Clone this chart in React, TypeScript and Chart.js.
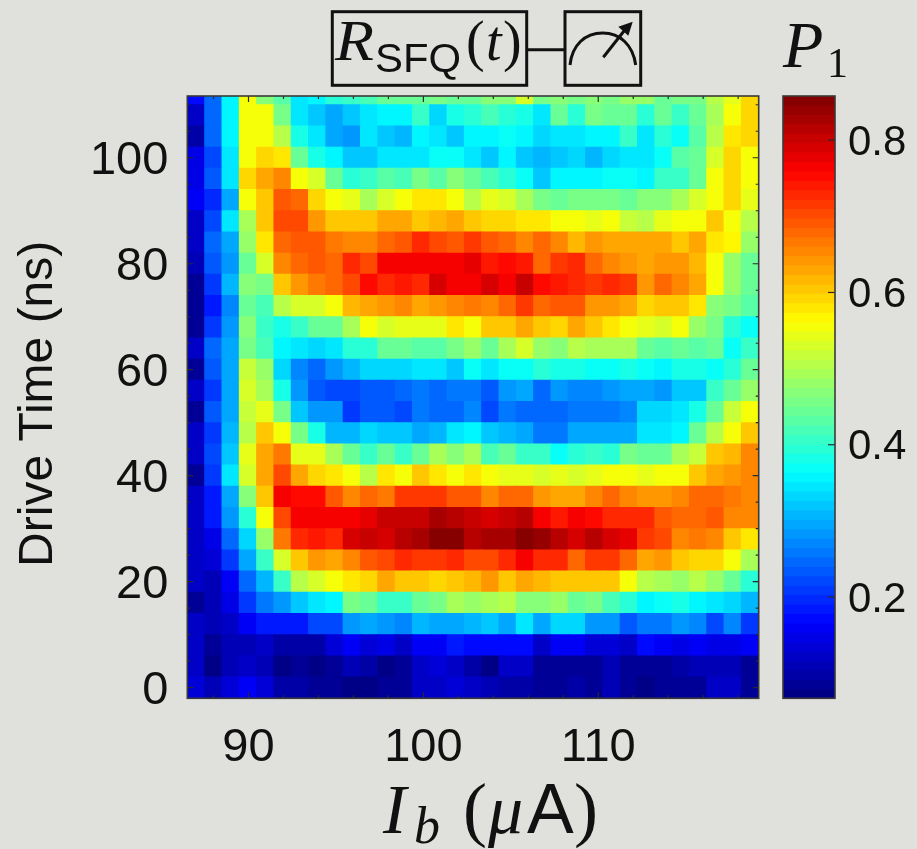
import React, { useEffect, useRef } from "react";
import { Chart, registerables } from "chart.js";

Chart.register(...registerables);

const biasCurrents = [87.0, 87.99, 88.98, 89.97, 90.96, 91.95, 92.94, 93.93, 94.92, 95.91, 96.9, 97.89, 98.88, 99.87, 100.86, 101.85, 102.84, 103.83, 104.82, 105.81, 106.8, 107.79, 108.78, 109.77, 110.76, 111.75, 112.74, 113.73, 114.72, 115.71, 116.7, 117.69, 118.68];
const driveTimes = [0, 4, 8, 12, 16, 20, 24, 28, 32, 36, 40, 44, 48, 52, 56, 60, 64, 68, 72, 76, 80, 84, 88, 92, 96, 100, 104, 108, 112];
const rowHalfNs = 2;

const row0 = [.14, .11, .14, .165, .13, .095, .095, .085, .08, .07, .07, .08, .085, .12, .12, .13, .118, .115, .095, .095, .09, .08, .1, .08, .105, .08, .07, .09, .085, .085, .12, .12, .085];
const row4 = [.12, .07, .105, .12, .105, .067, .09, .075, .08, .105, .095, .068, .08, .12, .13, .125, .095, .075, .12, .12, .085, .085, .09, .09, .115, .085, .085, .085, .1, .115, .11, .11, .09];
const row8 = [.12, .08, .115, .115, .12, .095, .095, .095, .13, .165, .14, .15, .12, .165, .165, .18, .178, .175, .175, .175, .12, .165, .165, .14, .14, .125, .17, .165, .15, .165, .15, .15, .165];
const row12 = [.12, .11, .12, .165, .18, .18, .18, .22, .22, .285, .3, .285, .265, .31, .3, .29, .312, .315, .29, .34, .29, .33, .33, .285, .285, .24, .255, .255, .285, .265, .22, .27, .21];
const row16 = [.09, .11, .15, .205, .255, .285, .315, .34, .36, .455, .445, .405, .405, .44, .455, .49, .475, .49, .5, .465, .465, .48, .44, .455, .415, .4, .36, .37, .385, .36, .35, .335, .31];
const row20 = [.12, .11, .165, .245, .31, .41, .505, .53, .56, .585, .59, .625, .6, .61, .595, .61, .615, .64, .6, .635, .62, .61, .61, .6, .61, .55, .51, .49, .485, .505, .485, .44, .395];
const row24 = [.12, .135, .205, .29, .41, .525, .6, .645, .625, .65, .685, .7, .73, .72, .72, .73, .708, .7, .73, .76, .73, .725, .675, .72, .71, .68, .63, .645, .61, .59, .59, .55, .49];
const row28 = [.12, .145, .25, .33, .485, .67, .73, .745, .73, .79, .8, .785, .82, .83, .855, .855, .82, .83, .83, .85, .835, .815, .785, .81, .79, .78, .72, .705, .655, .67, .65, .61, .585];
const row32 = [.12, .18, .28, .4, .55, .7, .76, .77, .76, .76, .78, .8, .8, .8, .83, .82, .808, .79, .8, .815, .76, .735, .76, .75, .73, .73, .73, .685, .675, .675, .69, .655, .65];
const row36 = [.12, .185, .29, .465, .605, .77, .75, .75, .685, .66, .675, .665, .72, .72, .72, .69, .69, .66, .68, .68, .64, .63, .63, .66, .68, .65, .64, .64, .655, .68, .68, .665, .65];
const row40 = [.09, .21, .34, .53, .635, .7, .625, .595, .58, .56, .51, .585, .56, .61, .585, .56, .58, .56, .54, .54, .525, .54, .525, .54, .55, .55, .54, .55, .56, .61, .63, .645, .66];
const row44 = [.12, .22, .325, .54, .63, .67, .54, .54, .49, .445, .41, .445, .41, .445, .49, .47, .49, .415, .44, .41, .41, .37, .395, .405, .39, .455, .44, .44, .49, .52, .61, .615, .65];
const row48 = [.12, .205, .31, .5, .6, .56, .46, .385, .31, .31, .33, .32, .32, .3, .31, .34, .36, .325, .31, .3, .26, .26, .29, .29, .3, .3, .34, .35, .36, .44, .51, .56, .6];
const row52 = [.09, .23, .295, .52, .54, .46, .315, .285, .28, .205, .235, .235, .22, .26, .25, .25, .265, .225, .26, .245, .245, .245, .26, .26, .26, .275, .33, .33, .34, .38, .44, .52, .56];
const row56 = [.12, .205, .3, .53, .49, .38, .28, .235, .22, .22, .235, .235, .25, .26, .25, .26, .26, .24, .285, .3, .25, .285, .265, .265, .285, .295, .295, .28, .315, .315, .41, .44, .48];
const row60 = [.08, .23, .3, .52, .48, .335, .27, .245, .285, .31, .33, .33, .33, .34, .35, .325, .375, .34, .375, .375, .39, .38, .38, .365, .375, .385, .37, .36, .385, .385, .37, .4, .44];
const row64 = [.12, .245, .3, .46, .42, .36, .35, .33, .34, .4, .4, .445, .445, .43, .43, .455, .48, .44, .49, .525, .48, .465, .5, .49, .49, .49, .45, .435, .445, .43, .445, .365, .41];
const row68 = [.09, .205, .285, .47, .41, .385, .41, .445, .445, .49, .55, .53, .54, .54, .54, .585, .56, .61, .61, .625, .61, .59, .625, .6, .58, .56, .54, .53, .55, .48, .455, .4, .375];
const row72 = [.09, .185, .27, .44, .42, .505, .535, .535, .56, .615, .635, .645, .655, .63, .645, .66, .672, .65, .68, .71, .68, .69, .69, .645, .645, .635, .59, .61, .61, .58, .47, .46, .43];
const row76 = [.09, .205, .31, .47, .455, .61, .64, .67, .68, .705, .75, .73, .745, .73, .785, .76, .76, .785, .77, .8, .75, .74, .73, .71, .725, .71, .645, .68, .655, .63, .56, .48, .44];
const row80 = [.11, .23, .285, .45, .525, .655, .68, .69, .68, .725, .705, .76, .76, .77, .76, .77, .772, .735, .75, .74, .68, .715, .725, .68, .655, .645, .63, .645, .645, .62, .56, .48, .44];
const row84 = [.12, .245, .3, .48, .585, .68, .695, .695, .67, .66, .65, .68, .69, .73, .705, .695, .72, .695, .68, .65, .68, .655, .62, .645, .635, .625, .635, .635, .6, .63, .585, .565, .48];
const row88 = [.12, .22, .34, .49, .6, .7, .7, .645, .6, .6, .6, .635, .635, .61, .62, .635, .61, .59, .59, .58, .58, .56, .55, .54, .55, .52, .51, .54, .56, .56, .6, .56, .51];
const row92 = [.165, .195, .3, .55, .605, .69, .675, .59, .55, .545, .49, .535, .56, .575, .575, .56, .51, .54, .535, .49, .455, .445, .46, .46, .46, .45, .47, .47, .49, .535, .56, .59, .54];
const row96 = [.145, .23, .34, .59, .625, .66, .56, .535, .445, .395, .405, .43, .42, .455, .43, .465, .44, .42, .395, .37, .315, .36, .36, .36, .37, .37, .36, .405, .41, .445, .55, .59, .55];
const row100 = [.15, .22, .35, .55, .59, .585, .445, .385, .36, .325, .325, .35, .35, .35, .37, .37, .348, .325, .36, .325, .305, .315, .335, .31, .335, .345, .345, .37, .43, .45, .535, .59, .55];
const row104 = [.1, .245, .355, .56, .56, .51, .385, .35, .3, .28, .345, .315, .31, .36, .345, .325, .36, .36, .375, .36, .33, .345, .345, .36, .36, .41, .35, .4, .37, .43, .51, .575, .59];
const row108 = [.12, .245, .36, .56, .56, .46, .345, .32, .3, .315, .345, .36, .36, .41, .33, .385, .4, .42, .39, .385, .345, .44, .4, .455, .44, .44, .4, .44, .41, .45, .49, .56, .59];
const row112 = [.17, .245, .36, .56, .47, .43, .35, .355, .4, .41, .42, .44, .44, .45, .46, .45, .445, .47, .47, .53, .46, .47, .46, .47, .46, .48, .48, .44, .46, .46, .51, .545, .59];
const heatRows = [row0, row4, row8, row12, row16, row20, row24, row28, row32, row36, row40, row44, row48, row52, row56, row60, row64, row68, row72, row76, row80, row84, row88, row92, row96, row100, row104, row108, row112];

const colorbarLevels = [.0732, .0856, .0979, .1103, .1227, .135, .1474, .1598, .1721, .1845, .1969, .2092, .2216, .234, .2463, .2587, .2711, .2834, .2958, .3082, .3205, .3329, .3453, .3576, .37, .3824, .3947, .4071, .4195, .4318, .4442, .4566, .4689, .4813, .4937, .506, .5184, .5308, .5431, .5555, .5679, .5802, .5926, .605, .6173, .6297, .6421, .6544, .6668, .6792, .6915, .7039, .7163, .7286, .741, .7534, .7657, .7781, .7905, .8028, .8152, .8276, .8399, .8523];

const xTickValues = [90, 100, 110];
const yTickValues = [0, 20, 40, 60, 80, 100];
const xMinorTicks = [88, 92, 94, 96, 98, 102, 104, 106, 108, 112, 114, 116, 118];
const yMinorTicks = [5, 10, 15, 25, 30, 35, 45, 50, 55, 65, 70, 75, 85, 90, 95, 105, 110];
const colorbarTicks = [0.2, 0.4, 0.6, 0.8];

const P_MIN = 0.067;
const P_MAX = 0.858;
const X_MIN = 86.5;
const X_MAX = 119.175;
const Y_MIN = -2;
const Y_MAX = 111.65;

const PAGE_BG = "#e0e1dc";
const INK = "#111111";
const SANS = '"Liberation Sans", Arial, sans-serif';
const SERIF = '"Liberation Serif", "Times New Roman", serif';

const W = 917;
const H = 849;
const PLOT = { left: 187.3, right: 758.7, top: 96, bottom: 698.3 };
const BAR = { left: 783, right: 835, top: 96, bottom: 698.3 };

function jetColor(v: number): string {
  const raw = (v - P_MIN) / (P_MAX - P_MIN);
  const t = (Math.min(63, Math.max(0, Math.floor(raw * 64))) + 0.5) / 64;
  const ch = (c: number) => Math.round(255 * Math.max(0, Math.min(1, 1.5 - Math.abs(4 * t - c))));
  return `rgb(${ch(3)},${ch(2)},${ch(1)})`;
}

function frameAndTicks(
  xSides: { major: number[]; minor: number[] } | null,
  ySides: { major: number[]; minor: number[] },
  both: boolean,
  majorLen: number,
  minorLen: number
) {
  return {
    id: "frameAndTicks",
    afterDatasetsDraw(chart: any) {
      const { ctx, chartArea: a, scales } = chart;
      ctx.save();
      ctx.strokeStyle = "#2a2a2a";
      ctx.lineWidth = 1.2;
      const vTick = (v: number, len: number) => {
        const x = scales.x.getPixelForValue(v);
        ctx.beginPath();
        ctx.moveTo(x, a.bottom);
        ctx.lineTo(x, a.bottom - len);
        ctx.moveTo(x, a.top);
        ctx.lineTo(x, a.top + len);
        ctx.stroke();
      };
      const hTick = (v: number, len: number) => {
        const y = scales.y.getPixelForValue(v);
        ctx.beginPath();
        if (both) {
          ctx.moveTo(a.left, y);
          ctx.lineTo(a.left + len, y);
        }
        ctx.moveTo(a.right, y);
        ctx.lineTo(a.right - len, y);
        ctx.stroke();
      };
      if (xSides) {
        xSides.major.forEach((v) => vTick(v, majorLen));
        xSides.minor.forEach((v) => vTick(v, minorLen));
      }
      ySides.major.forEach((v) => hTick(v, majorLen));
      ySides.minor.forEach((v) => hTick(v, minorLen));
      ctx.strokeStyle = "#3a3a3a";
      ctx.lineWidth = 1.6;
      ctx.strokeRect(a.left, a.top, a.right - a.left, a.bottom - a.top);
      ctx.restore();
    },
  };
}

export default function App() {
  const heatRef = useRef<HTMLCanvasElement>(null);
  const barRef = useRef<HTMLCanvasElement>(null);

  useEffect(() => {
    const heat = new Chart(heatRef.current as HTMLCanvasElement, {
      type: "bar",
      data: {
        datasets: heatRows.map((row, r) => ({
          label: `${driveTimes[r]} ns`,
          data: row.map((_, c) => ({
            x: biasCurrents[c],
            y: [driveTimes[r] - rowHalfNs, driveTimes[r] + rowHalfNs],
          })),
          backgroundColor: row.map(jetColor),
          borderWidth: 0,
          inflateAmount: 0.5,
          grouped: false,
          barPercentage: 1,
          categoryPercentage: 1,
        })),
      } as any,
      options: {
        animation: false,
        responsive: false,
        layout: { padding: { top: PLOT.top, right: W - PLOT.right, left: 0, bottom: 0 } },
        plugins: { legend: { display: false }, tooltip: { enabled: false } },
        scales: {
          x: {
            type: "linear",
            min: X_MIN,
            max: X_MAX,
            offset: false,
            grid: { display: false, drawTicks: false },
            border: { display: false },
            afterBuildTicks: (s: any) => {
              s.ticks = xTickValues.map((value) => ({ value }));
            },
            afterFit: (s: any) => {
              s.height = H - PLOT.bottom;
            },
            ticks: {
              autoSkip: false,
              maxRotation: 0,
              padding: 22,
              color: INK,
              font: { family: SANS, size: 47 },
              callback: (v: any) => String(v),
            },
          },
          y: {
            type: "linear",
            min: Y_MIN,
            max: Y_MAX,
            grid: { display: false, drawTicks: false },
            border: { display: false },
            afterBuildTicks: (s: any) => {
              s.ticks = yTickValues.map((value) => ({ value }));
            },
            afterFit: (s: any) => {
              s.width = PLOT.left;
            },
            ticks: {
              autoSkip: false,
              padding: 19,
              labelOffset: 3,
              color: INK,
              font: { family: SANS, size: 47 },
              callback: (v: any) => String(v),
            },
            title: {
              display: true,
              text: "Drive Time (ns) ",
              color: INK,
              font: { family: SANS, size: 48 },
              padding: { top: 10, bottom: 0 },
            },
          },
        },
      } as any,
      plugins: [frameAndTicks({ major: xTickValues, minor: xMinorTicks }, { major: yTickValues, minor: yMinorTicks }, true, 6, 3)],
    });

    const bar = new Chart(barRef.current as HTMLCanvasElement, {
      type: "bar",
      data: {
        datasets: [
          {
            label: "P1",
            data: colorbarLevels.map((v) => ({ x: 1, y: v })),
            backgroundColor: colorbarLevels.map(jetColor),
            borderWidth: 0,
            inflateAmount: 0.5,
            barPercentage: 1,
            categoryPercentage: 1,
          },
        ],
      } as any,
      options: {
        animation: false,
        responsive: false,
        indexAxis: "y",
        layout: { padding: { top: BAR.top, left: BAR.left, right: 0, bottom: H - BAR.bottom } },
        plugins: { legend: { display: false }, tooltip: { enabled: false } },
        scales: {
          x: { type: "linear", min: 0, max: 1, display: false },
          y: {
            type: "linear",
            position: "right",
            min: P_MIN,
            max: P_MAX,
            offset: false,
            grid: { display: false, drawTicks: false },
            border: { display: false },
            afterBuildTicks: (s: any) => {
              s.ticks = colorbarTicks.map((value) => ({ value }));
            },
            afterFit: (s: any) => {
              s.width = W - BAR.right;
            },
            ticks: {
              autoSkip: false,
              padding: 13,
              labelOffset: 3,
              color: INK,
              font: { family: SANS, size: 42 },
              callback: (v: any) => Number(v).toFixed(1),
            },
          },
        },
      } as any,
      plugins: [frameAndTicks(null, { major: colorbarTicks, minor: [] }, false, 7, 7)],
    });

    return () => {
      heat.destroy();
      bar.destroy();
    };
  }, []);

  const canvasStyle: React.CSSProperties = { position: "absolute", left: 0, top: 0, display: "block" };

  return (
    <div style={{ position: "absolute", left: 0, top: 0, width: W, height: H, overflow: "hidden", background: PAGE_BG }}>
      <div style={{ position: "absolute", left: 0, top: 0, width: W, height: H, filter: "blur(0.5px)" }}>
        <canvas ref={heatRef} width={W} height={H} style={canvasStyle} />
        <canvas ref={barRef} width={W} height={H} style={canvasStyle} />
        <svg width={W} height={H} style={{ position: "absolute", left: 0, top: 0, pointerEvents: "none" }}>
          <g fill="none" stroke="#111" strokeWidth={3}>
            <rect x={332.3} y={11.7} width={194.4} height={73.6} />
            <rect x={565} y={11.7} width={75.7} height={73.6} />
            <line x1={526.7} y1={49.7} x2={565} y2={49.7} />
            <path d="M570 65 C 572 45, 585 33, 602.7 33 C 620 33, 633 45, 635.7 65" />
            <line x1={603.3} y1={57.3} x2={624} y2={31} />
          </g>
          <polygon points="632.7,21.7 618.3,26.7 628.3,35.7" fill="#111" />
          <text x={335} y={60} fontFamily={SERIF} fontStyle="italic" fontSize={56} fill={INK} textLength={39} lengthAdjust="spacingAndGlyphs">R</text>
          <text x={375} y={71.5} fontFamily={SANS} fontSize={41} fill={INK} textLength={86} lengthAdjust="spacingAndGlyphs">SFQ</text>
          <text x={466} y={60} fontFamily={SERIF} fontSize={56} fill={INK}>(</text>
          <text x={486} y={60} fontFamily={SERIF} fontStyle="italic" fontSize={56} fill={INK}>t</text>
          <text x={503} y={60} fontFamily={SERIF} fontSize={56} fill={INK}>)</text>
          <text x={783} y={67} fontFamily={SERIF} fontStyle="italic" fontSize={66} fill={INK}>P</text>
          <text x={827} y={77} fontFamily={SERIF} fontSize={42} fill={INK}>1</text>
          <text x={383} y={833} fontFamily={SERIF} fontStyle="italic" fontSize={70} fill={INK}>I</text>
          <text x={414} y={843} fontFamily={SERIF} fontStyle="italic" fontSize={52} fill={INK}>b</text>
          <text x={463} y={833} fontFamily={SERIF} fontSize={72} fill={INK}>(</text>
          <text x={488} y={833} fontFamily={SERIF} fontStyle="italic" fontSize={70} fill={INK}>μ</text>
          <text x={527} y={833} fontFamily={SANS} fontSize={70} fill={INK}>A</text>
          <text x={574} y={833} fontFamily={SERIF} fontSize={72} fill={INK}>)</text>
        </svg>
      </div>
    </div>
  );
}
